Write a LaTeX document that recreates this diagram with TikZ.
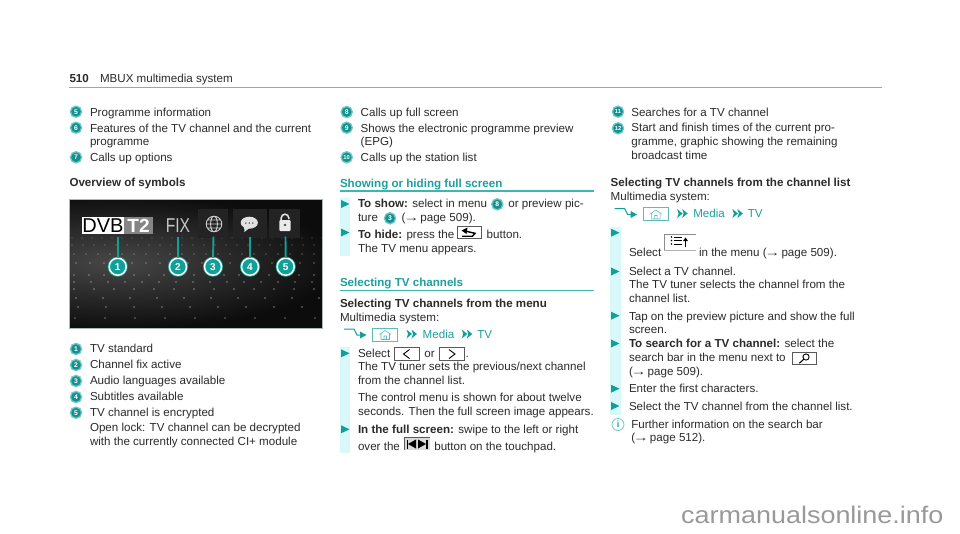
\documentclass[tikz,border=0pt]{standalone}
\usepackage{fontspec}
\usepackage{graphicx}
\setmainfont{Liberation Sans}
\usetikzlibrary{calc}
\definecolor{tealh}{HTML}{1F9F9F}
\definecolor{tealb}{HTML}{168F8F}
\definecolor{tealr}{HTML}{6CCAC6}
\definecolor{tealc}{HTML}{0FA09A}
\definecolor{strip}{HTML}{D8F8FA}
\definecolor{ink}{HTML}{2B2B2B}
\definecolor{rulec}{HTML}{98A8A5}
\definecolor{tealrule}{HTML}{3FB5B0}
\definecolor{backd}{HTML}{232323}
\definecolor{homeb}{HTML}{5CBCBC}
\definecolor{imgbg}{HTML}{0C0C0C}
\definecolor{wmark}{HTML}{999999}
\newcounter{tlc}
\tikzset{
  txt/.style={anchor=base west,inner sep=0pt,outer sep=0pt,text=ink,font=\fontsize{11.6}{14}\selectfont},
  head/.style={txt,text=tealh,font=\fontsize{11.6}{14}\selectfont\bfseries},
  navt/.style={txt,text=tealh},
  bdg/.style={circle,fill=tealb,draw=tealr,line width=1.3pt,minimum size=11.2pt,inner sep=0pt,text=white,font=\fontsize{6.8}{7}\selectfont\bfseries},
  mark1/.style={circle,fill=tealc,draw=tealc,line width=.8pt,double=white,double distance=1.5pt,minimum size=17pt,inner sep=0pt,text=white,font=\fontsize{10}{11}\selectfont\bfseries},
  stem/.style={draw=tealc,line width=1.9pt},
  kbox/.style={draw=black!65,line width=.7pt},
  hrule/.style={draw=tealrule,line width=1.2pt},
}
\newcommand{\txtline}[3]{\stepcounter{tlc}\node[txt] (tl\arabic{tlc}) at (#1,#2) {#3};}
\newcommand{\rarr}{\makebox[11.6pt]{\scalebox{1.35}[1]{→}}}
\newcommand{\bulmark}[2]{\fill[tealc] (#1,#2-4) -- (#1+8.5,#2) -- (#1,#2+4) -- cycle;}
\newcommand{\navrow}[3]{%
  \begin{scope}[shift={(#1,#2)}]
    \draw[tealc,line width=1pt] (344,329) -- (354,329) -- (357,335) -- (361,335);
    \fill[tealc] (360,331.5) -- (366.5,335) -- (360,338.5) -- cycle;
    \draw[homeb,line width=.7pt] (372.7,328) rectangle (397.7,341);
    \draw[homeb,line width=.6pt] (379.5,334.5) -- (385.2,330.5) -- (391,334.5) (381,333.5) -- (381,339.5) -- (389.5,339.5) -- (389.5,333.5) (384,339.5) -- (384,336) -- (386.5,336) -- (386.5,339.5);
    \foreach \nx in {406.5,461.8}{
      \fill[tealc] (\nx,329.5) -- (\nx+5.5,334) -- (\nx,338.5) -- (\nx+1.5,334) -- cycle;
      \fill[tealc] (\nx+5,329.5) -- (\nx+10.5,334) -- (\nx+5,338.5) -- (\nx+6.5,334) -- cycle;
    }
    \node[navt] (#3m) at (422.7,338.3) {Media};
    \node[navt] (#3t) at (477.3,338.3) {TV};
  \end{scope}}
\begin{document}
\begin{tikzpicture}[x=1pt,y=-1pt]
\useasboundingbox (0,0) rectangle (960,533);
\fill[white] (0,0) rectangle (960,533);

% header
\node[txt,font=\fontsize{11.6}{14}\selectfont\bfseries] (pg) at (69.5,82.7) {510};
\txtline{100}{82.7}{MBUX multimedia system}
\draw[rulec,line width=1pt] (69,87.3) -- (882,87.3);

% left column top
\node[bdg] (b5a) at (76,111.7) {5};
\node[bdg] (b6a) at (76,127.7) {6};
\node[bdg] (b7a) at (76,157.3) {7};
\txtline{90}{116}{Programme information}
\txtline{90}{132}{Features of the TV channel and the current}
\txtline{90}{145.5}{programme}
\txtline{90}{161.6}{Calls up options}
\node[txt,font=\fontsize{11.6}{14}\selectfont\bfseries] (ovw) at (69.5,186.7) {Overview of symbols};

% photo
\begin{scope}
  \clip (69.3,199) rectangle (322.7,328);
  \fill[imgbg] (69.3,199) rectangle (322.7,328);
  \shade[inner color=black!72,outer color=imgbg] (115,262) ellipse [x radius=225,y radius=68];
  \foreach \ry/\rs/\ro in {238/10/.14,245/11/.2,254/12/.28,263/14/.36,275/15/.42,282/17/.42,289/20/.45,298/27/.45,307/28/.45,318/30/.4}{
    \foreach \ri in {0,...,26}{
      \fill[white,opacity=\ro] ({72+\ri*\rs+mod(\ry,7)},\ry) circle (.8);
    }
  }
  \fill[backd] (198,209) rectangle (228,238);
  \fill[backd] (233,209) rectangle (267,238);
  \fill[backd] (269,209) rectangle (300,238);
  % DVB-T2
  \fill[white] (82,217) rectangle (124,234);
  \fill[black!48] (124,217) rectangle (153,234);
  \node[inner sep=0pt,text=black,font=\fontsize{20}{21}\selectfont] (dvb) at (103,225.7) {DVB};
  \node[inner sep=0pt,text=white,font=\fontsize{19}{20}\selectfont\bfseries] (t2) at (138.5,225.7) {T2};
  \node[inner sep=0pt,text=black!22,font=\fontsize{20}{21}\selectfont,xscale=.78] (fix) at (178,225.7) {FIX};
  % globe
  \draw[black!20,line width=.9pt] (214,224) circle (7.8) (214,224) ellipse [x radius=3.4,y radius=7.8] (206.2,224) -- (221.8,224) (207.5,220) -- (220.5,220) (207.5,228) -- (220.5,228);
  % bubble
  \fill[black!12] (249.3,222.7) ellipse [x radius=8.6,y radius=6];
  \fill[black!12] (244,226) -- (244.5,232) -- (250,227.5) -- cycle;
  \foreach \dx in {245.8,249.3,252.8}{\fill[black!70] (\dx,223) circle (.8);}
  % lock
  \draw[black!10,line width=1.5pt] (281.2,221) -- (281.2,218) arc [start angle=180,end angle=360,radius=3.8] -- (288.8,219);
  \fill[black!8,rounded corners=1pt] (279.3,220) rectangle (290.7,231);
  \fill[black!70] (285,225) circle (1.3);
\end{scope}
\draw[rulec!80,line width=.7pt] (69.3,199) rectangle (322.7,328);
\coordinate (s1) at (117.7,236.7);
\coordinate (s2) at (178,236.7);
\coordinate (s3) at (213.5,236.7);
\coordinate (s4) at (250,236.7);
\coordinate (s5) at (285.5,236.7);
\node[mark1] (m1) at (117.7,266.7) {1};
\node[mark1] (m2) at (178,266.7) {2};
\node[mark1] (m3) at (213,266.7) {3};
\node[mark1] (m4) at (250,266.7) {4};
\node[mark1] (m5) at (285.7,266.7) {5};
\foreach \k in {1,...,5}{\draw[stem] (m\k.north) -- (s\k);}

% legend
\node[bdg] (b1) at (76,349) {1};
\node[bdg] (b2) at (76,365) {2};
\node[bdg] (b3) at (76,381) {3};
\node[bdg] (b4) at (76,397) {4};
\node[bdg] (b5) at (76,412.7) {5};
\txtline{90}{352.3}{TV standard}
\txtline{90}{368.3}{Channel fix active}
\txtline{90}{384}{Audio languages available}
\txtline{90}{400}{Subtitles available}
\txtline{90}{416}{TV channel is encrypted}
\txtline{90}{431.7}{Open lock: TV channel can be decrypted}
\txtline{90}{445.7}{with the currently connected CI+ module}

% middle column
\node[bdg] (b8) at (346.7,112) {8};
\node[bdg] (b9) at (346.7,127.7) {9};
\node[bdg,font=\fontsize{5.8}{6}\selectfont\bfseries] (b10) at (346.7,157.3) {10};
\txtline{360.7}{116.7}{Calls up full screen}
\txtline{360.7}{132}{Shows the electronic programme preview}
\txtline{360.7}{145.7}{(EPG)}
\txtline{360.7}{161.7}{Calls up the station list}
\node[head] (h1) at (340,187.3) {Showing or hiding full screen};
\draw[hrule] (340,191) -- (594,191);
\fill[strip] (340,198) rectangle (350,256);
\bulmark{341}{204}
\bulmark{341}{232.5}
\txtline{358}{207.7}{\textbf{To show:} select in menu}
\node[bdg] (b8i) at (497.3,204.3) {8};
\txtline{508.3}{207.7}{or preview pic-}
\txtline{358}{221.7}{ture}
\node[bdg] (b3i) at (390,218.3) {3};
\txtline{401.7}{221.7}{(\rarr\ page 509).}
\txtline{358}{238.3}{\textbf{To hide:} press the}
\draw[kbox] (457.3,226) rectangle (481.7,238.3);
\draw[black,line width=1.4pt] (465,231) -- (475,233.3) -- (472.5,236.2) -- (462,236.2);
\fill[black] (467.5,227.5) -- (461.5,230.5) -- (466.5,234) -- cycle;
\txtline{486.7}{238.3}{button.}
\txtline{358}{252.5}{The TV menu appears.}

\node[head] (h2) at (340,286) {Selecting TV channels};
\draw[hrule] (340,290.7) -- (594,290.7);
\node[txt,font=\fontsize{11.6}{14}\selectfont\bfseries] (s1t) at (340,307.3) {Selecting TV channels from the menu};
\txtline{340}{321.7}{Multimedia system:}
\navrow{0}{0}{na}
\fill[strip] (340,347.3) rectangle (350,453);
\bulmark{341}{353.3}
\txtline{358}{357.3}{Select}
\draw[kbox] (394.3,347.7) rectangle (419.3,360);
\draw[black,line width=.9pt] (409.5,349.5) -- (403.5,354) -- (409.5,358.5);
\txtline{424.3}{357.3}{or}
\draw[kbox] (439.3,347.7) rectangle (464,360);
\draw[black,line width=.9pt] (449,349.5) -- (455,354) -- (449,358.5);
\txtline{465.5}{357.3}{.}
\txtline{358}{370.7}{The TV tuner sets the previous/next channel}
\txtline{358}{384}{from the channel list.}
\txtline{358}{401.7}{The control menu is shown for about twelve}
\txtline{358}{415.7}{seconds. Then the full screen image appears.}
\bulmark{341}{429.3}
\txtline{358}{433.3}{\textbf{In the full screen:} swipe to the left or right}
\txtline{358}{450.7}{over the}
\fill[black!15] (404.3,437.7) rectangle (430,450);
\draw[black!65,line width=.8pt] (404.3,450) -- (404.3,437.7) -- (430,437.7);
\fill[black] (406.5,439.5) rectangle (408,448.5);
\fill[black] (408,444) -- (416,439.5) -- (416,448.5) -- cycle;
\fill[black] (426,439.5) rectangle (427.5,448.5);
\fill[black] (426,444) -- (418,439.5) -- (418,448.5) -- cycle;
\txtline{434.3}{450.7}{button on the touchpad.}

% right column
\node[bdg,font=\fontsize{5.8}{6}\selectfont\bfseries] (b11) at (618,111.7) {11};
\node[bdg,font=\fontsize{5.8}{6}\selectfont\bfseries] (b12) at (618,128.3) {12};
\txtline{631.3}{116}{Searches for a TV channel}
\txtline{631.3}{131.7}{Start and finish times of the current pro-}
\txtline{631.3}{145.7}{gramme, graphic showing the remaining}
\txtline{631.3}{159.3}{broadcast time}
\node[txt,font=\fontsize{11.6}{14}\selectfont\bfseries] (s2t) at (610.7,186.7) {Selecting TV channels from the channel list};
\txtline{610.7}{200.7}{Multimedia system:}
\navrow{270.6}{-120.5}{nb}
\fill[strip] (610,226.7) rectangle (620.7,415);
\bulmark{611}{232.7}
\bulmark{611}{271.5}
\bulmark{611}{315.7}
\bulmark{611}{343.5}
\bulmark{611}{388.7}
\bulmark{611}{406}
\txtline{629}{256.7}{Select}
\draw[black!45,line width=.9pt] (696,234) -- (664,234) -- (664,250.7);
\draw[black!30,line width=.7pt] (664,250.7) -- (696,250.7);
\foreach \ly in {237,240.5,244}{
  \fill[black] (671.5,\ly) circle (.8);
  \draw[black,line width=.9pt] (673.5,\ly) -- (682,\ly);
}
\draw[black,line width=1pt] (685.5,239) -- (685.5,247);
\fill[black] (683,241) -- (685.5,237.5) -- (688,241) -- cycle;
\txtline{699}{256.7}{in the menu (\rarr\ page 509).}
\txtline{629}{275}{Select a TV channel.}
\txtline{629}{288.3}{The TV tuner selects the channel from the}
\txtline{629}{302.3}{channel list.}
\txtline{629}{320}{Tap on the preview picture and show the full}
\txtline{629}{333.3}{screen.}
\txtline{629}{347.3}{\textbf{To search for a TV channel:} select the}
\txtline{629}{361.7}{search bar in the menu next to}
\draw[kbox] (792.3,352.3) rectangle (816.7,364.3);
\draw[black,line width=.9pt] (806,357) circle (3.1);
\draw[black,line width=1.1pt] (803.8,359.2) -- (799.3,363.3);
\txtline{629}{375}{(\rarr\ page 509).}
\txtline{629}{392.7}{Enter the first characters.}
\txtline{629}{410}{Select the TV channel from the channel list.}
\node[circle,draw=tealr,line width=.8pt,minimum size=12pt,inner sep=0pt,text=tealh,font=\fontsize{9}{10}\selectfont\bfseries] (inf) at (618,424.5) {i};
\txtline{631.3}{428}{Further information on the search bar}
\txtline{631.3}{441.7}{(\rarr\ page 512).}

% watermark
\node[anchor=base west,inner sep=0pt,text=wmark,font=\fontsize{24}{26}\selectfont,xscale=1.123] (wm) at (681,523) {carmanualsonline.info};
\end{tikzpicture}
\end{document}
